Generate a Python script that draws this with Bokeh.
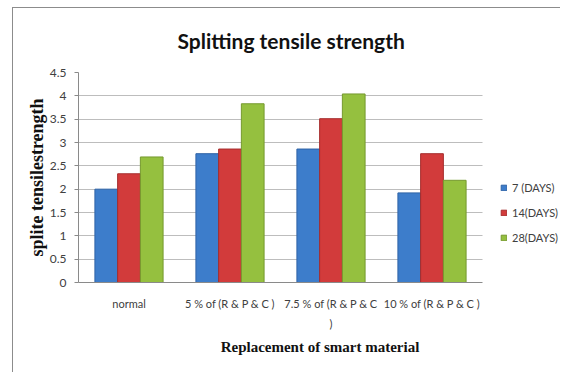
from bokeh.plotting import figure
from bokeh.models import Range1d, FixedTicker, Legend, LegendItem, ColumnDataSource
from bokeh.embed import file_html
from bokeh.resources import INLINE

# ---- data ----
categories = ["normal", "5 % of (R & P & C )", "7.5 % of (R & P & C\n)", "10 % of (R & P & C )"]
series_names = ["7 (DAYS)", "14(DAYS)", "28(DAYS)"]
days7 = [2.00, 2.76, 2.86, 1.92]
days14 = [2.33, 2.86, 3.51, 2.76]
days28 = [2.69, 3.83, 4.04, 2.19]
y_ticks = [0, 0.5, 1, 1.5, 2, 2.5, 3, 3.5, 4, 4.5]
y_tick_labels = ["0", "0.5", "1", "1.5", "2", "2.5", "3", "3.5", "4", "4.5"]

colors = ["#3D7DCB", "#D23B3B", "#95C03F"]
edges = ["#2F63A6", "#A52D2D", "#76992F"]

n = len(categories)
centers = [i + 0.5 for i in range(n)]

# canvas sits inside a framed box (border at page x=12, y=7)
W, H = 548, 365
left, top, bottom = 65, 64, 91
plot_w = 404                       # width of the category area in pixels
extra = (W - left - plot_w) / (plot_w / n)   # legend room expressed in category units

p = figure(x_range=Range1d(0, n + extra), y_range=Range1d(0, 4.5),
           width=W, height=H, output_backend="svg", toolbar_location=None,
           min_border_left=left, min_border_right=0, min_border_top=top, min_border_bottom=bottom)
p.styles = {"margin-left": "12px", "margin-top": "7px",
            "border-left": "1px solid #8c8c8c", "border-top": "1px solid #8c8c8c"}
p.outline_line_color = None
p.background_fill_color = "white"
p.border_fill_color = "white"

bw = 0.225
renderers = []
for i, vals in enumerate([days7, days14, days28]):
    src = ColumnDataSource(data=dict(x=[c + (i - 1) * bw for c in centers], top=vals))
    r = p.vbar(x="x", top="top", width=bw, source=src,
               fill_color=colors[i], line_color=edges[i], line_width=1)
    renderers.append(r)

# title
p.title.text = "Splitting tensile strength"
p.title.align = "left"
p.title.vertical_align = "top"
p.title.offset = 99
p.title.standoff = 35
p.title.text_font = "Lato"
p.title.text_font_style = "bold"
p.title.text_font_size = "21px"
p.title.text_color = "#111111"

# grid
p.xgrid.grid_line_color = None
p.ygrid.grid_line_color = "#BDBDBD"
p.ygrid.ticker = FixedTicker(ticks=y_ticks)
if "cross_bounds" in p.ygrid[0].properties():
    p.ygrid.cross_bounds = (0, n)
else:
    p.ygrid.grid_line_color = None
    p.segment(x0=[0] * len(y_ticks), x1=[n] * len(y_ticks), y0=y_ticks, y1=y_ticks,
              line_color="#BDBDBD", line_width=1)

# y axis
p.yaxis.ticker = FixedTicker(ticks=y_ticks)
p.yaxis.major_label_overrides = {t: l for t, l in zip(y_ticks, y_tick_labels)}
p.yaxis.axis_line_color = "#8a8a8a"
p.yaxis.major_tick_line_color = "#8a8a8a"
p.yaxis.major_tick_out = 4
p.yaxis.major_tick_in = 0
p.yaxis.minor_tick_line_color = None
p.yaxis.major_label_standoff = 8
p.yaxis.major_label_text_font = "Lato"
p.yaxis.major_label_text_font_size = "12px"
p.yaxis.major_label_text_color = "#404040"
p.yaxis.axis_label = "splite tensilestrength"
p.yaxis.axis_label_text_font = "Liberation Serif"
p.yaxis.axis_label_text_font_style = "bold"
p.yaxis.axis_label_text_font_size = "18px"
p.yaxis.axis_label_text_color = "#111111"
p.yaxis.axis_label_standoff = 0

# x axis
p.xaxis.bounds = (0, n)
p.xaxis.ticker = FixedTicker(ticks=centers)
p.xaxis.major_label_overrides = {c: l for c, l in zip(centers, categories)}
p.xaxis.axis_line_color = "#8a8a8a"
p.xaxis.major_tick_line_color = None
p.xaxis.major_tick_out = 0
p.xaxis.major_tick_in = 0
p.xaxis.minor_tick_line_color = None
p.xaxis.major_label_standoff = 14
p.xaxis.major_label_text_font = "Lato"
p.xaxis.major_label_text_font_size = "11px"
p.xaxis.major_label_text_line_height = 1.6
p.xaxis.major_label_text_color = "#404040"
p.xaxis.axis_label = "Replacement of smart material"
p.xaxis.axis_label_text_font = "Liberation Serif"
p.xaxis.axis_label_text_font_style = "bold"
p.xaxis.axis_label_text_font_size = "15px"
p.xaxis.axis_label_text_color = "#111111"
p.xaxis.axis_label_standoff = 6

legend = Legend(items=[LegendItem(label=s, renderers=[r]) for s, r in zip(series_names, renderers)],
                location=(422, 37), orientation="vertical",
                glyph_width=7, glyph_height=7, label_height=16, label_standoff=5,
                spacing=9, padding=0, margin=0,
                label_text_font="Lato", label_text_font_size="11px", label_text_color="#404040",
                border_line_color=None, background_fill_alpha=0)
p.add_layout(legend, "center")

open("out.html", "w").write(file_html(p, INLINE))
